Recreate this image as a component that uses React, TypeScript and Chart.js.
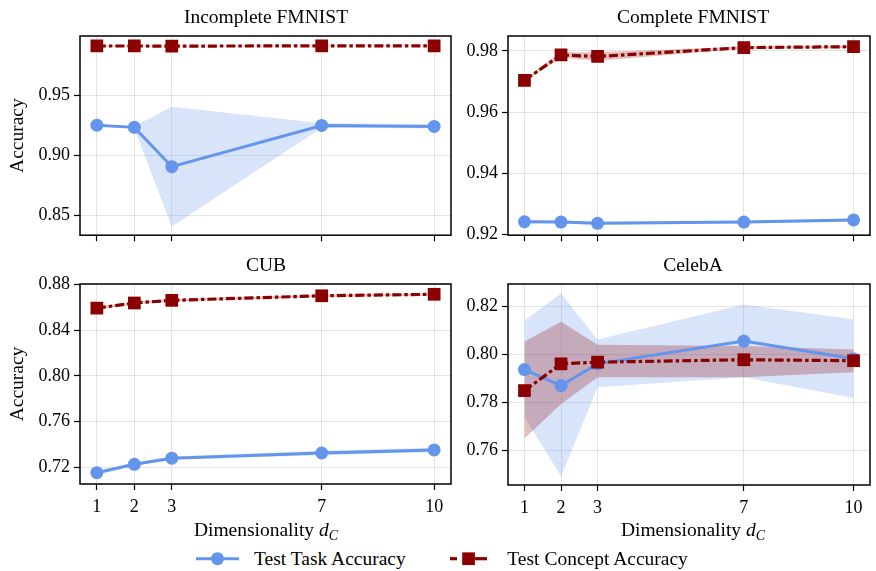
import React, { useEffect, useRef } from "react";
import { Chart, registerables } from "chart.js";
Chart.register(...registerables);

// ---------- data ----------
const dims = [1, 2, 3, 7, 10];
const xTicks = [1, 2, 3, 7, 10];

// Incomplete FMNIST
const incTask = [0.925, 0.9232, 0.8905, 0.9248, 0.924];
const incTaskLo = [0.9246, 0.9222, 0.8407, 0.9228, 0.9222];
const incTaskHi = [0.9254, 0.9242, 0.9404, 0.9266, 0.9258];
const incConcept = [0.9909, 0.9909, 0.9908, 0.991, 0.991];
const incConceptLo = [0.9906, 0.9906, 0.9905, 0.9907, 0.9907];
const incConceptHi = [0.9912, 0.9912, 0.9911, 0.9913, 0.9913];
const incYTicks = [0.85, 0.9, 0.95];

// Complete FMNIST
const comTask = [0.9241, 0.924, 0.9236, 0.924, 0.9247];
const comTaskLo = [0.9236, 0.9235, 0.9231, 0.9235, 0.9242];
const comTaskHi = [0.9246, 0.9245, 0.9241, 0.9245, 0.9252];
const comConcept = [0.9704, 0.9787, 0.9782, 0.9811, 0.9814];
const comConceptLo = [0.97, 0.9778, 0.9768, 0.9807, 0.981];
const comConceptHi = [0.9708, 0.9796, 0.9796, 0.9815, 0.9818];
const comYTicks = [0.92, 0.94, 0.96, 0.98];

// CUB
const cubTask = [0.7153, 0.7226, 0.728, 0.7325, 0.7352];
const cubTaskLo = [0.7138, 0.7211, 0.7265, 0.7305, 0.7332];
const cubTaskHi = [0.7168, 0.7241, 0.7295, 0.7345, 0.7372];
const cubConcept = [0.8592, 0.8637, 0.866, 0.87, 0.8713];
const cubConceptLo = [0.8582, 0.8627, 0.865, 0.869, 0.8703];
const cubConceptHi = [0.8602, 0.8647, 0.867, 0.871, 0.8723];
const cubYTicks = [0.72, 0.76, 0.8, 0.84, 0.88];

// CelebA
const celTask = [0.7937, 0.787, 0.7961, 0.8056, 0.7982];
const celTaskLo = [0.7738, 0.749, 0.7863, 0.7905, 0.7818];
const celTaskHi = [0.8141, 0.8255, 0.8063, 0.8209, 0.8148];
const celConcept = [0.7849, 0.7961, 0.7968, 0.7978, 0.7974];
const celConceptLo = [0.7649, 0.7793, 0.7905, 0.7905, 0.7926];
const celConceptHi = [0.8054, 0.8137, 0.8041, 0.8036, 0.8021];
const celYTicks = [0.76, 0.78, 0.8, 0.82];

const titles = ["Incomplete FMNIST", "Complete FMNIST", "CUB", "CelebA"];
const legendLabels = ["Test Task Accuracy", "Test Concept Accuracy"];

// ---------- styles ----------
const BLUE = "#6495ED";
const RED = "#8B0000";
const BLUE_BAND = "rgba(100,149,237,0.25)";
const RED_BAND = "rgba(139,0,0,0.25)";
const FONT = '"Liberation Serif", "Times New Roman", serif';

const pts = (ys: number[]) => dims.map((x, i) => ({ x, y: ys[i] }));

const framePlugin = {
  id: "frame",
  afterDraw(chart: any) {
    const { ctx, chartArea } = chart;
    const { left, top, right, bottom } = chartArea;
    ctx.save();
    ctx.strokeStyle = "#000";
    ctx.lineWidth = 1.5;
    ctx.strokeRect(left, top, right - left, bottom - top);
    ctx.restore();
  },
};

type Panel = {
  task: number[]; taskLo: number[]; taskHi: number[];
  concept: number[]; conceptLo: number[]; conceptHi: number[];
  yMin: number; yMax: number; yTicks: number[];
  box: { left: number; top: number; w: number; h: number };
  pad: { left: number; top: number; right: number; bottom: number };
  yW: number; xH: number; showX: boolean; showYTitle: boolean;
};

const panels: Panel[] = [
  {
    task: incTask, taskLo: incTaskLo, taskHi: incTaskHi,
    concept: incConcept, conceptLo: incConceptLo, conceptHi: incConceptHi,
    yMin: 0.8335, yMax: 0.9992, yTicks: incYTicks,
    box: { left: 0, top: 0, w: 460, h: 250 },
    pad: { left: 0, top: 36, right: 8, bottom: 0 },
    yW: 80, xH: 13, showX: false, showYTitle: true,
  },
  {
    task: comTask, taskLo: comTaskLo, taskHi: comTaskHi,
    concept: comConcept, conceptLo: comConceptLo, conceptHi: comConceptHi,
    yMin: 0.9197, yMax: 0.9849, yTicks: comYTicks,
    box: { left: 430, top: 0, w: 449, h: 250 },
    pad: { left: 0, top: 36, right: 0, bottom: 0 },
    yW: 78, xH: 14, showX: false, showYTitle: false,
  },
  {
    task: cubTask, taskLo: cubTaskLo, taskHi: cubTaskHi,
    concept: cubConcept, conceptLo: cubConceptLo, conceptHi: cubConceptHi,
    yMin: 0.7054, yMax: 0.8803, yTicks: cubYTicks,
    box: { left: 0, top: 250, w: 460, h: 280 },
    pad: { left: 0, top: 34, right: 8, bottom: 0 },
    yW: 80, xH: 46, showX: true, showYTitle: true,
  },
  {
    task: celTask, taskLo: celTaskLo, taskHi: celTaskHi,
    concept: celConcept, conceptLo: celConceptLo, conceptHi: celConceptHi,
    yMin: 0.7454, yMax: 0.8295, yTicks: celYTicks,
    box: { left: 430, top: 250, w: 449, h: 280 },
    pad: { left: 0, top: 34, right: 0, bottom: 0 },
    yW: 78, xH: 45, showX: true, showYTitle: false,
  },
];

function PanelChart({ p }: { p: Panel }) {
  const ref = useRef<HTMLCanvasElement | null>(null);
  useEffect(() => {
    if (!ref.current) return;
    const chart = new Chart(ref.current, {
      type: "line",
      data: {
        datasets: [
          { data: pts(p.taskHi), borderWidth: 0, pointRadius: 0, backgroundColor: BLUE_BAND, fill: "+1", order: 4 },
          { data: pts(p.taskLo), borderWidth: 0, pointRadius: 0, fill: false, order: 4 },
          { data: pts(p.conceptHi), borderWidth: 0, pointRadius: 0, backgroundColor: RED_BAND, fill: "+1", order: 3 },
          { data: pts(p.conceptLo), borderWidth: 0, pointRadius: 0, fill: false, order: 3 },
          {
            data: pts(p.task), borderColor: BLUE, borderWidth: 3, fill: false,
            pointStyle: "circle", pointRadius: 6.5, pointBackgroundColor: BLUE, pointBorderWidth: 0, order: 1,
          },
          {
            data: pts(p.concept), borderColor: RED, borderWidth: 3.2, fill: false,
            borderDash: [9, 3, 3.5, 3],
            pointStyle: "rect", pointRadius: 9, pointBackgroundColor: RED, pointBorderWidth: 0, order: 0,
          },
        ] as any,
      },
      options: {
        animation: false,
        responsive: false,
        maintainAspectRatio: false,
        layout: { padding: p.pad },
        plugins: { legend: { display: false }, tooltip: { enabled: false }, title: { display: false } },
        elements: { line: { tension: 0 } },
        scales: {
          x: {
            type: "linear",
            min: 0.55,
            max: 10.45,
            afterBuildTicks: (s: any) => { s.ticks = xTicks.map((v) => ({ value: v })); },
            afterFit: (s: any) => { s.height = p.xH; },
            border: { display: false },
            grid: { color: "#e4e4e4", lineWidth: 1, tickColor: "#000", tickLength: 6, tickWidth: 1.2, drawTicks: true },
            ticks: {
              display: p.showX, autoSkip: false, maxRotation: 0, padding: 6, color: "#000",
              font: { family: FONT, size: 18 },
              callback: (v: any) => String(v),
            },
          },
          y: {
            type: "linear",
            min: p.yMin,
            max: p.yMax,
            afterBuildTicks: (s: any) => { s.ticks = p.yTicks.map((v) => ({ value: v })); },
            afterFit: (s: any) => { s.width = p.yW; },
            border: { display: false },
            grid: { color: "#e4e4e4", lineWidth: 1, tickColor: "#000", tickLength: 6, tickWidth: 1.2, drawTicks: true },
            ticks: {
              padding: 4, color: "#000",
              font: { family: FONT, size: 18 },
              callback: (v: any) => Number(v).toFixed(2),
            },
            title: {
              display: p.showYTitle, text: "Accuracy", color: "#000",
              font: { family: FONT, size: 19.5, lineHeight: 1.2 },
              padding: { top: 6.5, bottom: 0 },
            },
          },
        },
      } as any,
      plugins: [framePlugin],
    });
    return () => chart.destroy();
  }, [p]);
  return (
    <canvas
      ref={ref}
      width={p.box.w}
      height={p.box.h}
      style={{ position: "absolute", left: p.box.left, top: p.box.top, width: p.box.w, height: p.box.h }}
    />
  );
}

const textBase: React.CSSProperties = {
  position: "absolute",
  fontFamily: FONT,
  fontSize: 19.5,
  lineHeight: "20px",
  color: "#000",
  whiteSpace: "nowrap",
  textAlign: "center",
  width: 400,
};

function XLabel({ cx }: { cx: number }) {
  return (
    <div style={{ ...textBase, left: cx - 200, top: 519.6 }}>
      Dimensionality <span style={{ fontStyle: "italic" }}>d</span>
      <span style={{ fontStyle: "italic", fontSize: "0.72em", position: "relative", top: "0.28em", lineHeight: 0 }}>C</span>
    </div>
  );
}

export default function App() {
  const titleCenters = [266, 693, 266, 693];
  const titleTops = [6.7, 6.7, 255, 255];
  return (
    <div
      style={{
        position: "fixed", left: 0, top: 0, width: 876, height: 571,
        overflow: "hidden", background: "#fff",
      }}
    >
      {panels.map((p, i) => (
        <PanelChart key={i} p={p} />
      ))}
      {titles.map((t, i) => (
        <div key={t} style={{ ...textBase, left: titleCenters[i] - 200, top: titleTops[i] }}>{t}</div>
      ))}
      <XLabel cx={266} />
      <XLabel cx={693} />
      <svg style={{ position: "absolute", left: 190, top: 548, width: 60, height: 22 }} width={60} height={22}>
        <line x1={6} y1={10.7} x2={49} y2={10.7} stroke={BLUE} strokeWidth={3} />
        <circle cx={27.5} cy={10.7} r={6.5} fill={BLUE} />
      </svg>
      <div style={{ ...textBase, textAlign: "left", left: 254, top: 549.4 }}>{legendLabels[0]}</div>
      <svg style={{ position: "absolute", left: 444, top: 548, width: 50, height: 22 }} width={50} height={22}>
        <line x1={6} y1={10.7} x2={13} y2={10.7} stroke={RED} strokeWidth={3.2} />
        <line x1={31} y1={10.7} x2={43} y2={10.7} stroke={RED} strokeWidth={3.2} />
        <rect x={18.2} y={4.35} width={12.7} height={12.7} fill={RED} />
      </svg>
      <div style={{ ...textBase, textAlign: "left", left: 507.3, top: 549.4 }}>{legendLabels[1]}</div>
    </div>
  );
}
